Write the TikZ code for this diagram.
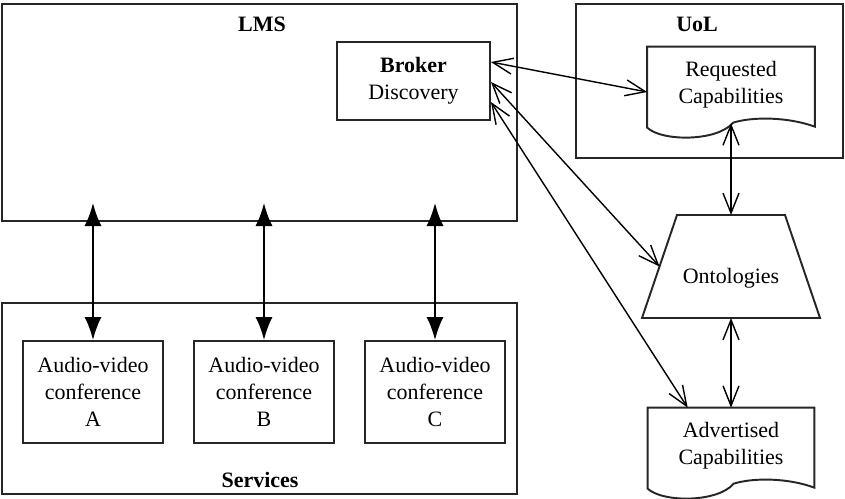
\documentclass[tikz,border=0pt]{standalone}
\usepackage{fontspec}
\setmainfont{Liberation Serif}[Ligatures=TeX]
\usetikzlibrary{calc,positioning,arrows.meta}

% outline of a document node, wavy bottom
\newcommand{\docoutline}[1]{%
  \draw[boxline] (#1.north west) -- (#1.north east)
    -- ($(#1.north east)+(0,-80)$)
    .. controls ($(#1.north west)+(140,-70)$) and ($(#1.north west)+(105,-70)$) .. ($(#1.north west)+(86,-76)$)
    .. controls ($(#1.north west)+(70,-95)$) and ($(#1.north west)+(15,-95)$) .. ($(#1.north west)+(0,-81)$)
    -- cycle;}

\begin{document}
\begin{tikzpicture}[x=0.02cm,y=0.02cm,font=\rmfamily\fontsize{12.5}{15.5}\selectfont]
\useasboundingbox (0,0) rectangle (845,-498);

\tikzstyle{frame}=[draw=black!85,line width=1.1pt,rectangle,inner sep=0pt]
\tikzstyle{boxline}=[black!85,line width=1.1pt]
\tikzstyle{avbox}=[frame,minimum width=2.8cm,minimum height=2.04cm,align=center]
\tikzstyle{doc}=[rectangle,minimum height=1.52cm,align=center,inner sep=0pt]
\tikzstyle{title}=[font=\rmfamily\fontsize{12.5}{15.5}\selectfont\bfseries]
\tikzstyle{link}=[line width=0.8pt,{Straight Barb[length=0.4cm,width=0.32cm]}-{Straight Barb[length=0.4cm,width=0.32cm]}]
\tikzstyle{bus}=[line width=1pt,{Latex[length=0.46cm,width=0.34cm]}-{Latex[length=0.46cm,width=0.34cm]}]

% LMS
\node[frame,minimum width=10.3cm,minimum height=4.34cm] (lms) at (259.5,-112.5) {};
\node[title] (lmstext) at (262,-24) {LMS};
\node[frame,minimum width=3.06cm,minimum height=1.56cm,align=center] (broker) at (413.5,-81) {\textbf{Broker}\\Discovery};

% UoL
\node[frame,minimum width=5.34cm,minimum height=3.08cm] (uol) at (709.5,-81) {};
\node[title] (uoltext) at (697,-24) {UoL};
\node[doc,minimum width=3.34cm] (req) at (731,-85) {Requested\\Capabilities};
\docoutline{req}

% ontologies
\coordinate (ontoN) at (731,-215);
\coordinate (ontoS) at (731,-318);
\coordinate (ontoW) at (659.5,-266.5);
\draw[boxline] (677,-215) -- (785,-215) -- (820,-318) -- (642,-318) -- cycle;
\node (onto) at (731,-278) {Ontologies};

\node[doc,minimum width=3.32cm] (adv) at (731,-446) {Advertised\\Capabilities};
\docoutline{adv}

% Services
\node[frame,minimum width=10.3cm,minimum height=3.82cm] (serv) at (259.5,-398.5) {};
\node[title] (servtext) at (260,-480) {Services};
\node[avbox] (avA) at (93,-392) {Audio-video\\conference\\A};
\node[avbox] (avB) at (264,-392) {Audio-video\\conference\\B};
\node[avbox] (avC) at (435,-392) {Audio-video\\conference\\C};

\coordinate (lmsbus) at (0,-203);
\foreach \s in {A,B,C}
  \draw[bus] (av\s.north) -- (av\s.north |- lmsbus);

\draw[link] ($(broker.east)+(0,19)$) -- ($(req.west)+(0,-7)$);
\draw[link] ($(broker.east)+(0,-1)$) -- (ontoW);
\draw[link] ($(broker.east)+(0,-21)$) -- ($(adv.north west)+(40,0)$);
\draw[link] (req.south) -- (ontoN);
\draw[link] (ontoS) -- (adv.north);

\end{tikzpicture}
\end{document}
